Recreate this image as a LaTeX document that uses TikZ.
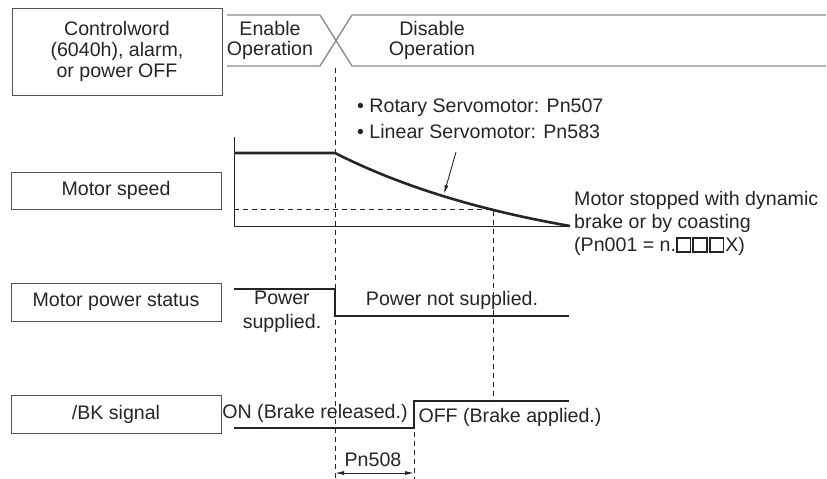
\documentclass[tikz,border=0pt]{standalone}
\usepackage{fontspec}
\setmainfont{Liberation Sans}
\usetikzlibrary{arrows.meta}
\definecolor{InkGray}{RGB}{40,36,37}
\definecolor{BusGray}{RGB}{140,140,140}
\definecolor{BoxGray}{RGB}{85,85,85}
\newcommand{\hsq}{{\setlength{\fboxrule}{1.7pt}\setlength{\fboxsep}{0pt}\fbox{\rule{0pt}{12pt}\hspace{12pt}}}\hspace{1pt}}

\begin{document}
\begin{tikzpicture}[x=1pt, y=-1pt, font=\fontsize{19.6}{23}\selectfont, text=InkGray,
  sigbox/.style={draw=BoxGray, line width=0.9pt, minimum width=210pt, align=center, inner sep=0pt},
  txt/.style={align=center, inner sep=0pt}, lft/.style={anchor=west, align=left, inner sep=0pt},
  wave/.style={InkGray, line width=2.6pt}, bus/.style={BusGray, line width=1.4pt},
  guide/.style={InkGray, line width=0.8pt, dash pattern=on 5pt off 4pt},
  ar/.style={-{Latex[length=9pt, width=4pt]}, InkGray, line width=0.9pt}]
\useasboundingbox (0,0) rectangle (827,479);
% signal name boxes
\node[sigbox, minimum height=87pt, font=\fontsize{19.6}{21}\selectfont] (cw) at (117,51.5) {Controlword\\(6040h), alarm,\\or power OFF};
\node[sigbox, minimum height=37pt] (spd) at (116,190.5) {Motor speed};
\node[sigbox, minimum height=38pt] (mps) at (116,302) {Motor power status};
\node[sigbox, minimum height=38pt] (bk) at (116,414) {/BK signal};
% command bus
\draw[bus] (227,15) -- (320,15) -- (352,66) -- (826,66);
\draw[bus] (227,66) -- (320,66) -- (352,15) -- (826,15);
\node[txt, font=\fontsize{19.6}{20}\selectfont] (en) at (270,40.5) {Enable\\Operation};
\node[txt, font=\fontsize{19.6}{20}\selectfont] (dis) at (432,40.5) {Disable\\Operation};
% time marks
\coordinate (t1top) at (335,68); \coordinate (t1bot) at (335,479);
\coordinate (t2top) at (493,209); \coordinate (t2bot) at (493,401);
\coordinate (t3top) at (414,432); \coordinate (t3bot) at (414,479);
\coordinate (lvl) at (234,209);
\draw[guide] (t1top) -- (t1bot); \draw[guide] (lvl) -- (t2top) -- (t2bot); \draw[guide] (t3top) -- (t3bot);
% motor speed
\draw[InkGray, line width=0.9pt] (234,137) -- (234,226) -- (570,226);
\draw[wave] (234,153) -- (335,153) .. controls (408,190) and (490,212) .. (570,226);
\node[lft] (rot) at (357,108) {• Rotary Servomotor: Pn507};
\node[lft] (lin) at (357,131) {• Linear Servomotor: Pn583};
\coordinate (decel) at (444,194);
\draw[ar] (456,152) -- (decel);
\node[lft] (stop) at (574,223) {Motor stopped with dynamic\\brake or by coasting\\(Pn001 = n.\hsq\hsq\hsq X)};
% motor power status
\draw[wave] (234,289) -- (335,289) -- (335,316) -- (569,316);
\node[txt, font=\fontsize{19.6}{24}\selectfont] (pon) at (282,312) {Power\\supplied.};
\node[txt] (poff) at (452,300) {Power not supplied.};
% brake signal
\draw[wave] (234,428) -- (414,428) -- (414,401) -- (569,401);
\node[txt] (bon) at (315,413) {ON (Brake released.)};
\node[txt] (boff) at (510,417) {OFF (Brake applied.)};
\node[txt] (pn508) at (373,460) {Pn508};
\coordinate (d1) at (335,473); \coordinate (d2) at (414,473);
\draw[{Latex[length=9pt, width=4pt]}-{Latex[length=9pt, width=4pt]}, InkGray, line width=0.9pt] (d1) -- (d2);
\end{tikzpicture}
\end{document}
